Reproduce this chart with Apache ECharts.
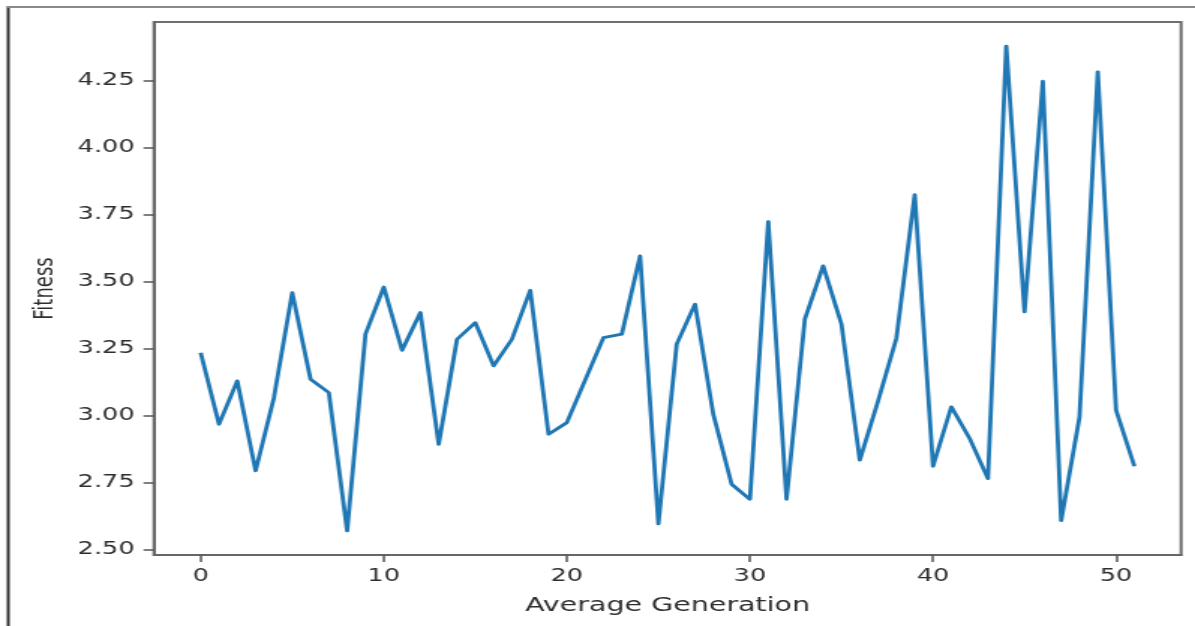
<!DOCTYPE html>
<html>
<head>
<meta charset="utf-8">
<script src="https://cdn.jsdelivr.net/npm/echarts@6/dist/echarts.min.js"></script>
<style>
  html, body { margin: 0; padding: 0; background: #ffffff; overflow: hidden; }
  #wrap { width: 1195px; height: 626px; overflow: hidden; position: relative; background: #ffffff; }
  #chart { width: 797px; height: 626px; transform: scaleX(1.4994); transform-origin: 0 0; }
</style>
</head>
<body>
<div id="wrap"><div id="chart"></div></div>
<script>
// ---- data ----
const generations = [0, 1, 2, 3, 4, 5, 6, 7, 8, 9, 10, 11, 12, 13, 14, 15, 16, 17, 18, 19, 20,
  21, 22, 23, 24, 25, 26, 27, 28, 29, 30, 31, 32, 33, 34, 35, 36, 37, 38, 39, 40,
  41, 42, 43, 44, 45, 46, 47, 48, 49, 50, 51];
const fitness = [3.236, 2.969, 3.131, 2.795, 3.068, 3.460, 3.137, 3.087, 2.571, 3.305, 3.481,
  3.245, 3.386, 2.894, 3.286, 3.348, 3.187, 3.286, 3.469, 2.932, 2.975,
  3.134, 3.292, 3.305, 3.597, 2.597, 3.268, 3.417, 3.006, 2.745, 2.689,
  3.725, 2.689, 3.361, 3.560, 3.342, 2.835, 3.056, 3.290, 3.826, 2.812,
  3.034, 2.916, 2.766, 4.380, 3.388, 4.249, 2.609, 2.995, 4.284, 3.021, 2.812];
const xTickValues = [0, 10, 20, 30, 40, 50];
const yTickValues = [2.50, 2.75, 3.00, 3.25, 3.50, 3.75, 4.00, 4.25];
const xTitle = 'Average Generation';
const yTitle = 'Fitness';

// ---- chart ----
const chart = echarts.init(document.getElementById('chart'), null, { renderer: 'canvas' });
const textColor = '#2e2e2e';
const font = 'DejaVu Sans';

chart.setOption({
  animation: false,
  backgroundColor: '#ffffff',
  grid: {
    left: 102.7, right: 9.3, top: 22, bottom: 71,
    show: true, borderColor: '#6e6e6e', borderWidth: 2, backgroundColor: 'transparent'
  },
  graphic: [
    { type: 'line', shape: { x1: 5.5, y1: 6, x2: 5.5, y2: 626 }, style: { stroke: '#333333', lineWidth: 2 } },
    { type: 'line', shape: { x1: 5, y1: 7, x2: 797, y2: 7 }, style: { stroke: '#8a8a8a', lineWidth: 2 } }
  ],
  xAxis: {
    type: 'value', min: -2.55, max: 53.55,
    name: xTitle, nameLocation: 'middle', nameGap: 42,
    nameTextStyle: { fontFamily: font, fontSize: 19, color: textColor },
    axisLine: { show: true, onZero: false, lineStyle: { color: '#666666', width: 2 } },
    axisTick: { show: true, length: 7, customValues: xTickValues, lineStyle: { color: '#555555', width: 1.5 } },
    axisLabel: { customValues: xTickValues, margin: 13, fontFamily: font, fontSize: 17, color: textColor },
    splitLine: { show: false }
  },
  yAxis: {
    type: 'value', min: 2.481, max: 4.47,
    name: yTitle, nameLocation: 'middle', nameGap: 63,
    nameTextStyle: { fontFamily: font, fontSize: 18, color: textColor },
    axisLine: { show: true, onZero: false, lineStyle: { color: '#666666', width: 2 } },
    axisTick: { show: true, length: 7, customValues: yTickValues, lineStyle: { color: '#555555', width: 1.5 } },
    axisLabel: {
      customValues: yTickValues, margin: 13, fontFamily: font, fontSize: 17, color: textColor,
      formatter: v => Number(v).toFixed(2)
    },
    splitLine: { show: false }
  },
  series: [{
    type: 'line',
    data: generations.map((g, i) => [g, fitness[i]]),
    showSymbol: false,
    lineStyle: { color: '#1f77b4', width: 2.8, join: 'round' },
    itemStyle: { color: '#1f77b4' }
  }]
});
</script>
</body>
</html>
